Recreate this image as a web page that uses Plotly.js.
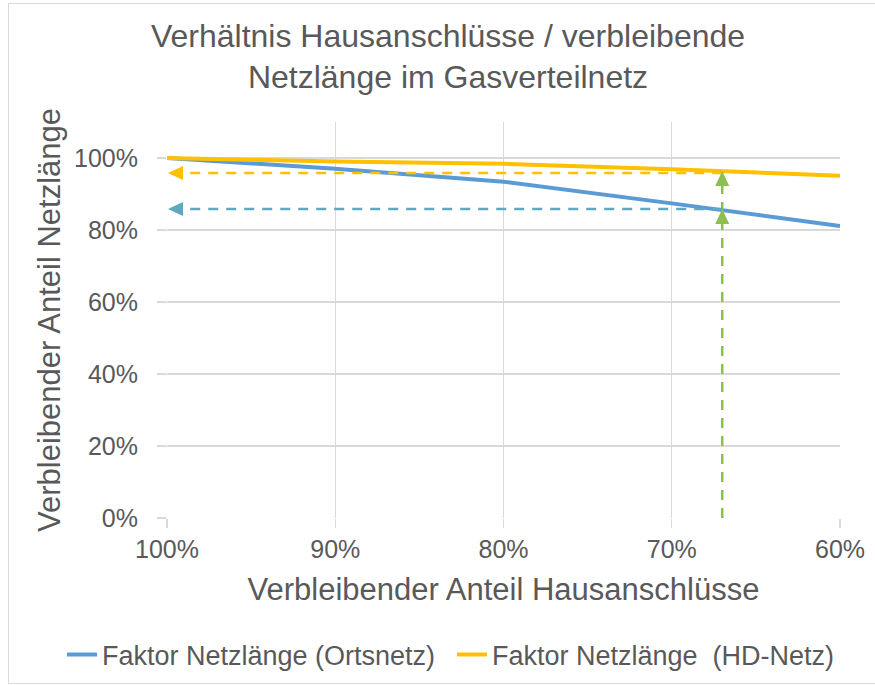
<!DOCTYPE html>
<html>
<head>
<meta charset="utf-8">
<script src="https://cdn.plot.ly/plotly-3.0.1.min.js"></script>
<style>
  html, body { margin: 0; padding: 0; background: #fff; }
  #wrap { position: relative; width: 875px; height: 685px; overflow: hidden; }
  #chart { position: absolute; left: 0; top: 0; width: 875px; height: 685px; }
  #frame { position: absolute; left: 8px; top: 3px; width: 880px; height: 679px; border: 1px solid #d9d9d9; pointer-events: none; }
</style>
</head>
<body>
<div id="wrap"><div id="chart"></div><div id="frame"></div></div>
<script>
// Data
const xShare = [1.0, 0.9, 0.8, 0.7, 0.6];
const ortsnetz = [1.0, 0.970, 0.934, 0.874, 0.811];
const hdNetz = [1.0, 0.990, 0.984, 0.969, 0.951];
const xTicks = [1.0, 0.9, 0.8, 0.7, 0.6];
const xTickLabels = ['100%', '90%', '80%', '70%', '60%'];
const yTicks = [0, 0.2, 0.4, 0.6, 0.8, 1.0];
const yTickLabels = ['0%', '20%', '40%', '60%', '80%', '100%'];
const markX = 0.67;
const markOrts = 0.858;
const markHD = 0.958;
const markStartX = 1.0;
const seriesNames = ['Faktor Netzlänge (Ortsnetz)', 'Faktor Netzlänge \u00a0(HD-Netz)'];

const grey = '#595959';
const grid = '#d9d9d9';
const green = '#8CBF4F';
const teal = '#5FA8C0';
const orange = '#FFC000';
const blue = '#5B9BD5';
const dash = '10px,8px';
const fam = 'Liberation Sans, Arial, sans-serif';

const traces = [
  { x: xShare, y: ortsnetz, type: 'scatter', mode: 'lines', name: seriesNames[0],
    line: { color: blue, width: 4 }, legend: 'legend' },
  { x: xShare, y: hdNetz, type: 'scatter', mode: 'lines', name: seriesNames[1],
    line: { color: orange, width: 4 }, legend: 'legend2' }
];

function tri(xa, ya, path, color) {
  return { type: 'path', xref: 'x', yref: 'y', xsizemode: 'pixel', ysizemode: 'pixel',
    xanchor: xa, yanchor: ya, path: path, fillcolor: color, line: { width: 0 }, layer: 'above' };
}

const shapes = [
  { type: 'line', xref: 'x', yref: 'y', x0: markX, x1: markX, y0: 0, y1: markHD - 0.02,
    line: { color: green, width: 2.5, dash: dash } },
  { type: 'line', xref: 'x', yref: 'y', x0: markX, x1: markStartX - 0.009, y0: markOrts, y1: markOrts,
    line: { color: teal, width: 2.5, dash: dash } },
  { type: 'line', xref: 'x', yref: 'y', x0: markX, x1: markStartX - 0.009, y0: markHD, y1: markHD,
    line: { color: orange, width: 2.5, dash: dash } },
  tri(markX, markOrts, 'M0,0 L-7,-15 L7,-15 Z', green),
  tri(markX, markHD + 0.006, 'M0,0 L-7,-15 L7,-15 Z', green),
  tri(markStartX, markOrts, 'M1,0 L16,7 L16,-7 Z', teal),
  tri(markStartX, markHD, 'M1,0 L16,7 L16,-7 Z', orange)
];

const legendBase = { orientation: 'h', xref: 'container', yref: 'container', xanchor: 'left',
  y: 0.044, yanchor: 'middle', font: { size: 27, color: grey, family: fam }, bgcolor: 'rgba(0,0,0,0)' };

const layout = {
  width: 875, height: 685,
  margin: { l: 167, r: 35, t: 122, b: 167 },
  paper_bgcolor: '#fff', plot_bgcolor: '#fff',
  font: { family: fam, color: grey, size: 25 },
  title: { text: 'Verhältnis Hausanschlüsse / verbleibende<br>Netzlänge im Gasverteilnetz',
    x: 0.512, xanchor: 'center', yref: 'container', y: 0.932, yanchor: 'middle',
    font: { size: 32, color: grey, family: fam } },
  xaxis: {
    range: [1.0, 0.6], tickvals: xTicks, ticktext: xTickLabels,
    showgrid: true, gridcolor: grid, gridwidth: 1.3, zeroline: false, showline: false,
    ticks: 'outside', ticklen: 9, tickcolor: grid, tickwidth: 1.3,
    tickfont: { size: 25, color: grey },
    title: { text: 'Verbleibender Anteil Hausanschlüsse', font: { size: 31, color: grey }, standoff: 16 }
  },
  yaxis: {
    range: [0, 1.1], tickvals: yTicks, ticktext: yTickLabels,
    showgrid: true, gridcolor: grid, gridwidth: 1.3, zeroline: false, showline: false,
    ticks: 'outside', ticklen: 9, tickcolor: grid, tickwidth: 1.3, ticklabelstandoff: 14,
    tickfont: { size: 25, color: grey },
    title: { text: 'Verbleibender Anteil Netzlänge', font: { size: 31, color: grey }, standoff: 4 }
  },
  showlegend: true,
  legend: Object.assign({}, legendBase, { x: 62 / 875 }),
  legend2: Object.assign({}, legendBase, { x: 452 / 875 }),
  shapes: shapes
};

Plotly.newPlot('chart', traces, layout, { displayModeBar: false, staticPlot: true });
</script>
</body>
</html>
